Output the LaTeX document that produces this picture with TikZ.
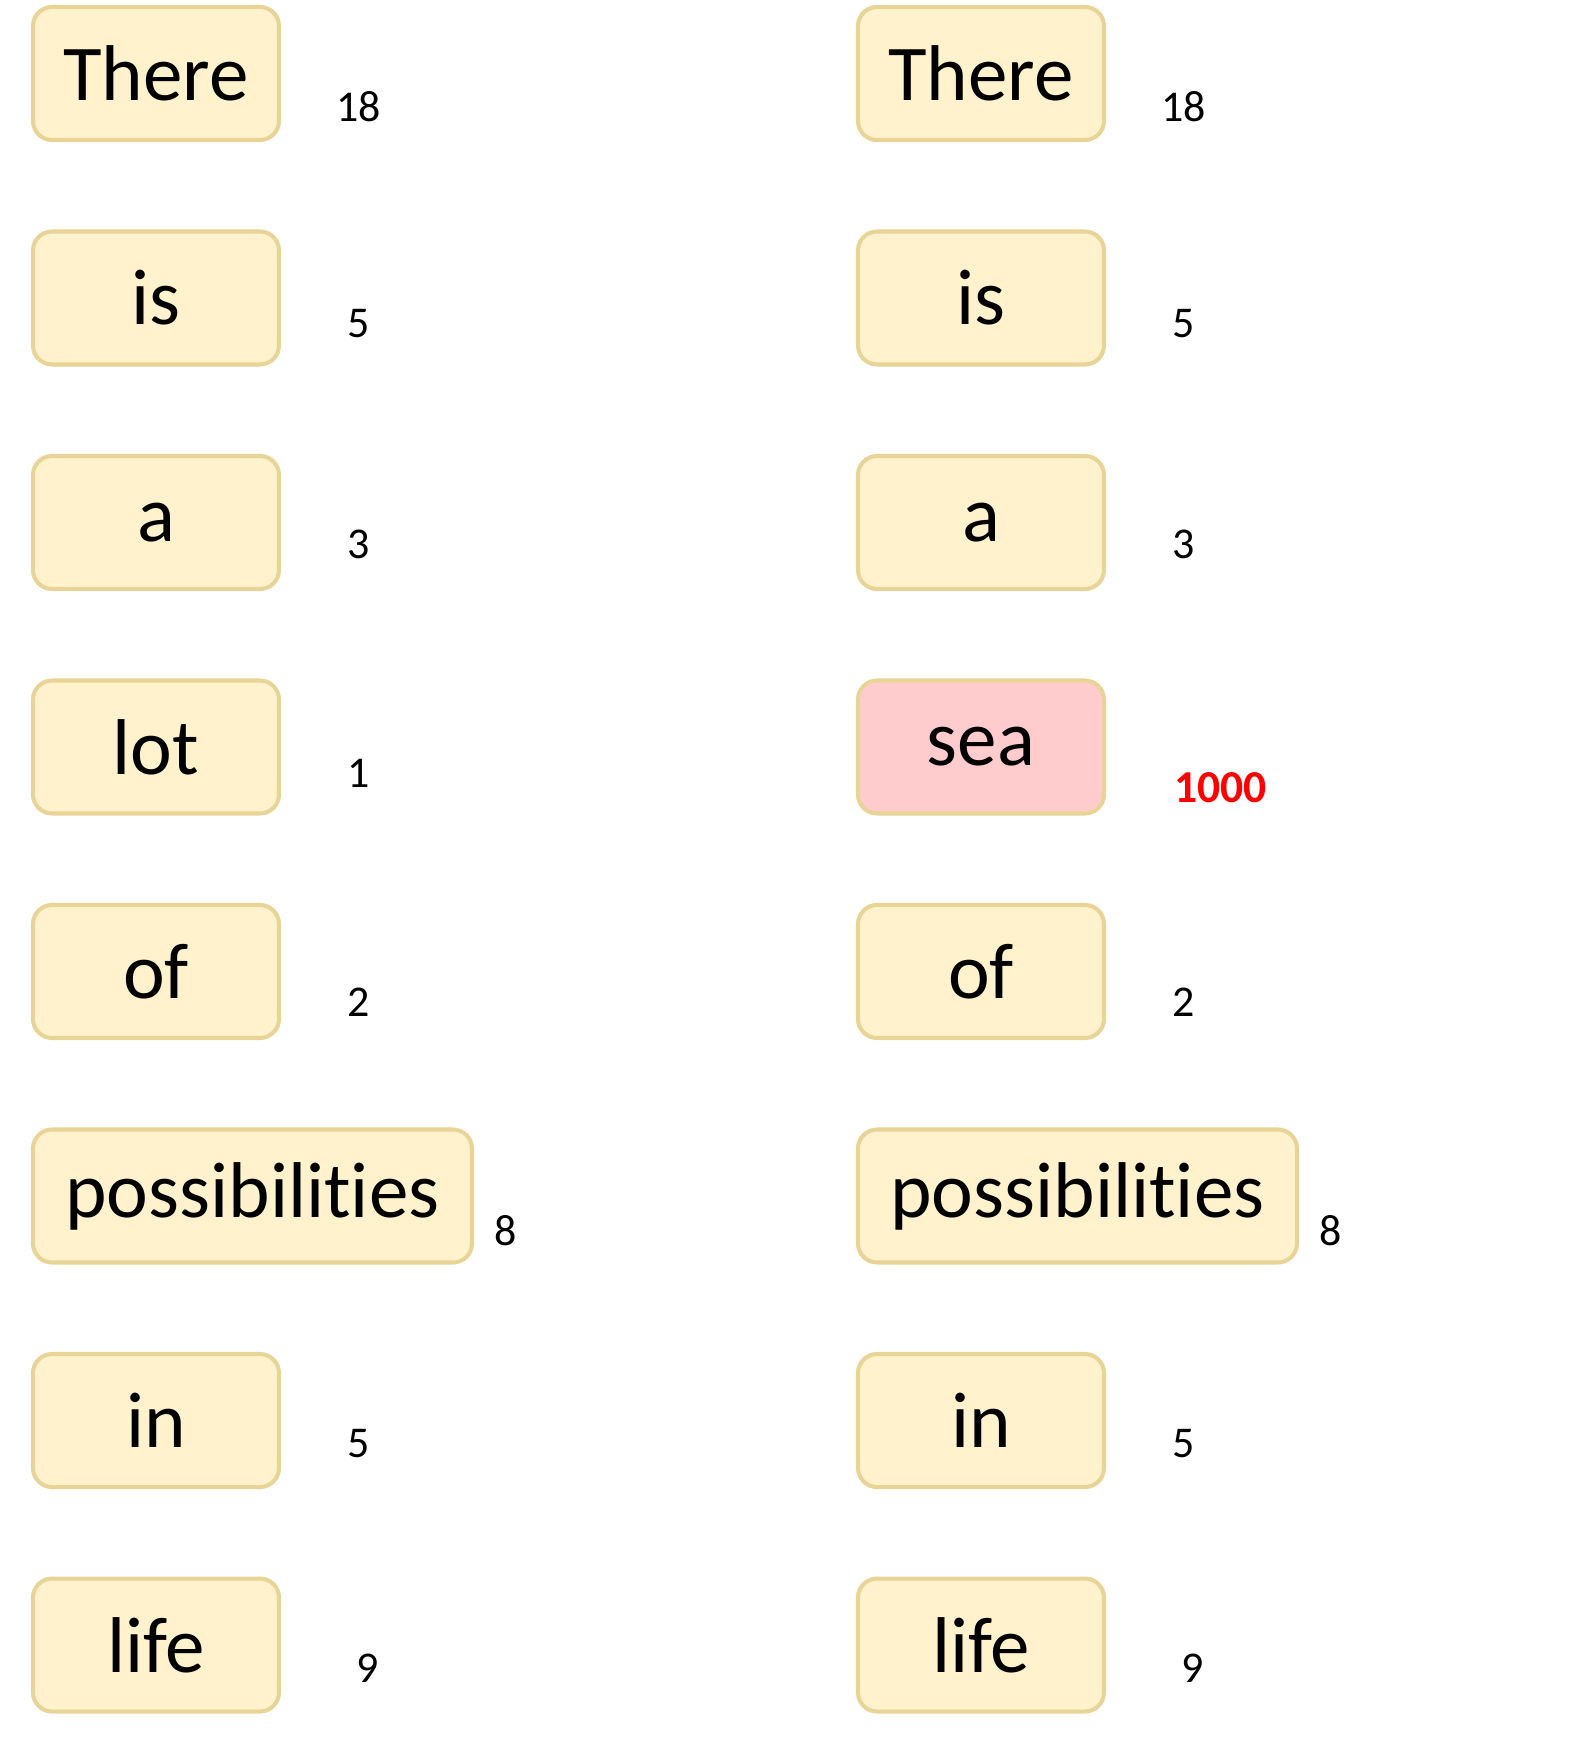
\documentclass[tikz,border=0pt]{standalone}
\usepackage{fontspec}
\setmainfont{Carlito}[Ligatures=NoCommon]
\usetikzlibrary{positioning}
\definecolor{wdFill}{HTML}{FFF2CC}
\definecolor{wdBorder}{HTML}{E8D497}
\definecolor{wdHit}{HTML}{FFCCCD}
\definecolor{wdRed}{HTML}{FF0000}

\begin{document}
\begin{tikzpicture}[node distance=1.83cm,
        wrd/.style={draw=wdBorder, line width=2.3pt, fill=wdFill, rounded corners=0.38cm, text=black, minimum width=4.92cm, minimum height=2.66cm, inner sep=0pt, outer sep=0pt, font=\fontsize{45}{54}\selectfont},
        hit/.style={wrd, fill=wdHit},
        cnt/.style={inner sep=0pt, text=black, font=\fontsize{25}{30}\selectfont},
        big/.style={cnt, text=wdRed, font=\fontsize{26}{31}\selectfont\bfseries}]
        \useasboundingbox (0,0) rectangle (31.68,-34.76);
        % left column
        \node[wrd, anchor=north west] (l1) at (0.66,-0.14) {There};
        \node[wrd, below=of l1.south west, anchor=north west] (l2) {is};
        \node[wrd, below=of l2.south west, anchor=north west] (l3) {a};
        \node[wrd, below=of l3.south west, anchor=north west] (l4) {lot};
        \node[wrd, below=of l4.south west, anchor=north west] (l5) {of};
        \node[wrd, below=of l5.south west, anchor=north west, minimum width=8.78cm] (l6) {possibilities};
        \node[wrd, below=of l6.south west, anchor=north west] (l7) {in};
        \node[wrd, below=of l7.south west, anchor=north west] (l8) {life};
        \node[cnt, right=1.14cm of l1.east, yshift=-0.66cm] (n1) {18};
        \node[cnt, right=1.37cm of l2.east, yshift=-0.52cm] (n2) {5};
        \node[cnt, right=1.37cm of l3.east, yshift=-0.44cm] (n3) {3};
        \node[cnt, right=1.37cm of l4.east, yshift=-0.52cm] (n4) {1};
        \node[cnt, right=1.37cm of l5.east, yshift=-0.62cm] (n5) {2};
        \node[cnt, right=0.45cm of l6.east, yshift=-0.70cm] (n6) {8};
        \node[cnt, right=1.54cm of l7.east, yshift=-0.46cm, xshift=-0.17cm] (n7) {5};
        \node[cnt, right=1.54cm of l8.east, yshift=-0.46cm] (n8) {9};
        % right column
        \node[wrd, anchor=north west] (r1) at (17.16,-0.14) {There};
        \node[wrd, below=of r1.south west, anchor=north west] (r2) {is};
        \node[wrd, below=of r2.south west, anchor=north west] (r3) {a};
        \node[hit, below=of r3.south west, anchor=north west] (r4) {sea};
        \node[wrd, below=of r4.south west, anchor=north west] (r5) {of};
        \node[wrd, below=of r5.south west, anchor=north west, minimum width=8.78cm] (r6) {possibilities};
        \node[wrd, below=of r6.south west, anchor=north west] (r7) {in};
        \node[wrd, below=of r7.south west, anchor=north west] (r8) {life};
        \node[cnt, right=1.14cm of r1.east, yshift=-0.66cm] (m1) {18};
        \node[cnt, right=1.37cm of r2.east, yshift=-0.52cm] (m2) {5};
        \node[cnt, right=1.37cm of r3.east, yshift=-0.44cm] (m3) {3};
        \node[big, right=1.40cm of r4.east, yshift=-0.82cm] (m4) {1000};
        \node[cnt, right=1.37cm of r5.east, yshift=-0.62cm] (m5) {2};
        \node[cnt, right=0.45cm of r6.east, yshift=-0.70cm] (m6) {8};
        \node[cnt, right=1.37cm of r7.east, yshift=-0.46cm] (m7) {5};
        \node[cnt, right=1.54cm of r8.east, yshift=-0.46cm] (m8) {9};
\end{tikzpicture}
\end{document}
